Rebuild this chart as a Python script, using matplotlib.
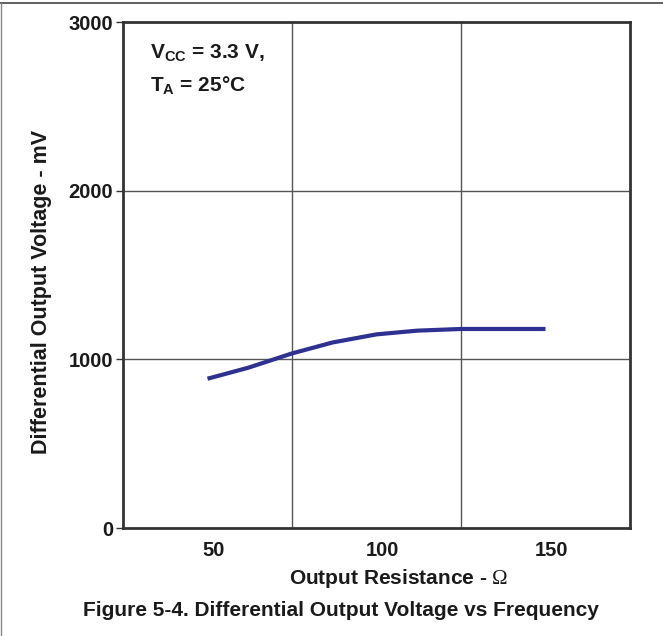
import matplotlib
matplotlib.use("Agg")
import matplotlib.pyplot as plt
from matplotlib.lines import Line2D

plt.rcParams['font.family'] = ['Liberation Sans', 'DejaVu Sans']
plt.rcParams['mathtext.fontset'] = 'custom'
plt.rcParams['mathtext.bf'] = 'Liberation Sans:bold'
plt.rcParams['mathtext.rm'] = 'Liberation Serif'
plt.rcParams['mathtext.sf'] = 'Liberation Sans:bold'
plt.rcParams['mathtext.it'] = 'Liberation Sans:bold'

# Data
resistance = [50, 62, 75, 87, 100, 112, 125, 137, 150]
voltage_mv = [885, 950, 1035, 1100, 1148, 1170, 1180, 1180, 1180]
x_tick_labels = [50, 100, 150]
y_ticks = [0, 1000, 2000, 3000]
x_grid = [75, 125]

W, H = 663, 636
FS = 15
TXT = '#1a1a1a'
fig = plt.figure(figsize=(W / 100, H / 100), dpi=100)
ax = fig.add_axes([123 / W, (H - 528) / H, (630 - 123) / W, (528 - 22) / H])


def fpos(px, py):
    return px / W, 1 - py / H


ax.plot(resistance, voltage_mv, color='#2e3192', lw=3, solid_capstyle='butt', zorder=3)

ax.set_xlim(25, 175)
ax.set_ylim(0, 3000)
ax.set_yticks(y_ticks)
ax.set_yticklabels([str(v) for v in y_ticks], fontsize=14.5, fontweight='bold', color=TXT)
ax.set_xticks(x_tick_labels)
ax.set_xticklabels([])
ax.tick_params(axis='x', length=0)
ax.tick_params(axis='y', length=5, width=1, color='#333333', pad=2)

# x tick labels drawn slightly right of the tick positions as in the reference
for v in x_tick_labels:
    xd = ax.transData.transform((v, 0))[0]
    fig.text((xd + 6) / W, 1 - 551 / H, str(v), fontsize=14.5, fontweight='bold',
             color=TXT, ha='center', va='center')

for xv in x_grid:
    ax.axvline(xv, color='#555555', lw=1, zorder=1)
for yv in y_ticks[1:-1]:
    ax.axhline(yv, color='#555555', lw=1, zorder=1)

for s in ax.spines.values():
    s.set_linewidth(2)
    s.set_color('#333333')

fig.text(*fpos(399, 578), 'Output Resistance - $\\mathrm{\\Omega}$', fontsize=FS,
         fontweight='bold', color=TXT, ha='center', va='center')
fig.text(*fpos(42, 292), 'Differential Output Voltage - mV', fontsize=15.5,
         fontweight='bold', color=TXT, ha='center', va='center', rotation=90)

fig.text(*fpos(150, 53), '$\\mathbf{V_{CC}}$ = 3.3 V,', fontsize=FS,
         fontweight='bold', color=TXT, va='center', ha='left')
fig.text(*fpos(150, 86), '$\\mathbf{T_{A}}$ = 25°C', fontsize=FS,
         fontweight='bold', color=TXT, va='center', ha='left')

fig.text(*fpos(341, 610), 'Figure 5-4. Differential Output Voltage vs Frequency',
         fontsize=FS, fontweight='bold', color=TXT, ha='center', va='center')

fig.add_artist(Line2D([0, 1], [1 - 3 / H, 1 - 3 / H], transform=fig.transFigure, color='#444444', lw=1.2))
fig.add_artist(Line2D([1 / W, 1 / W], [0, 1 - 3 / H], transform=fig.transFigure, color='#888888', lw=1))

fig.savefig('out.png', dpi=100)
